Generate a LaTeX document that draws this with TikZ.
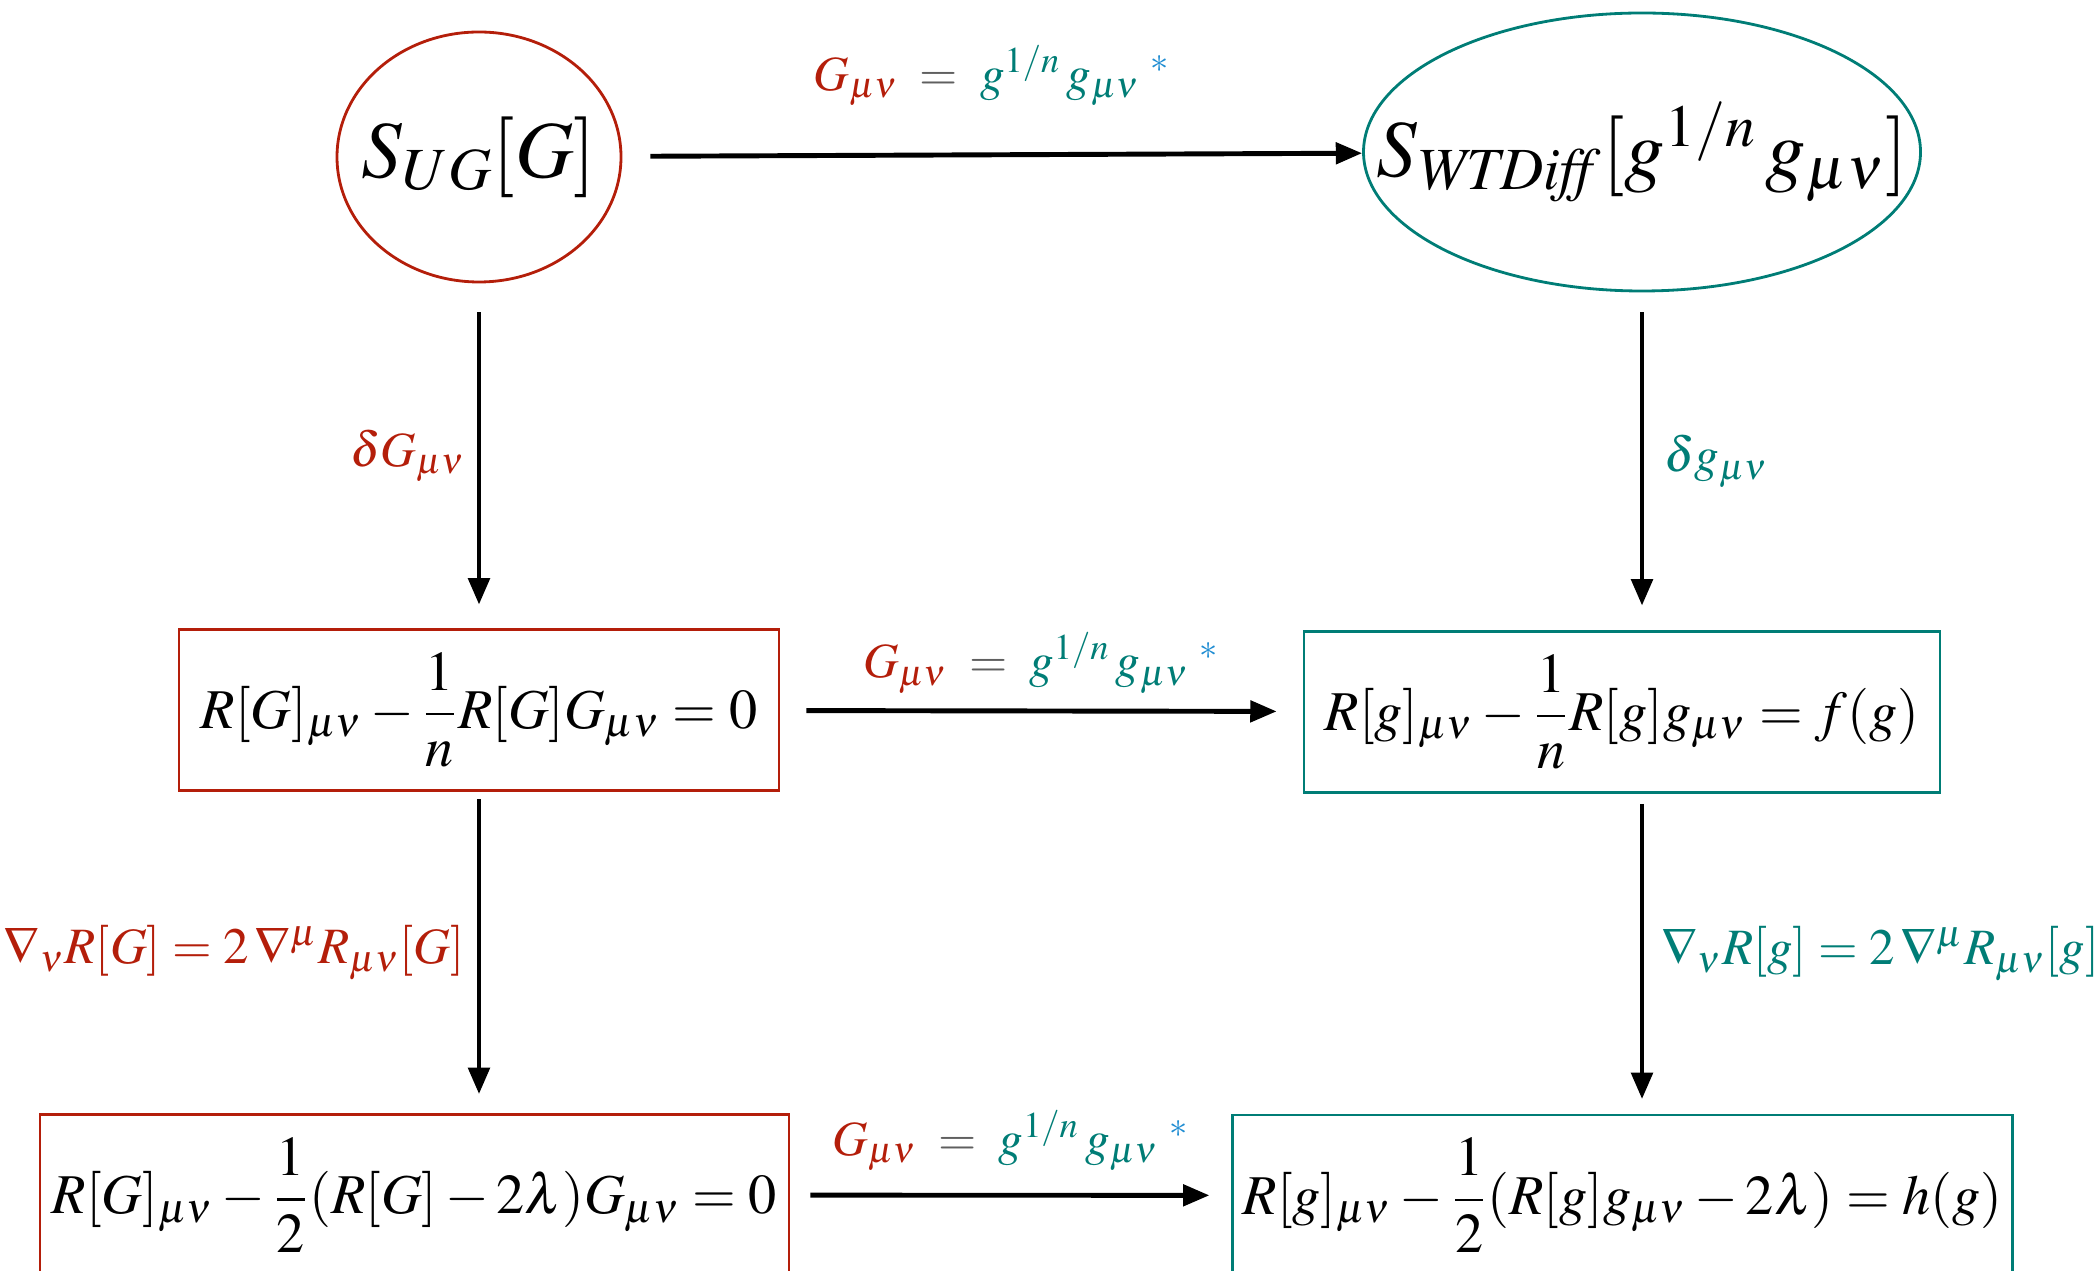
\documentclass[tikz,border=0pt]{standalone}
\IfFileExists{mathptmx.sty}{\usepackage{mathptmx}}{}
\usetikzlibrary{positioning,arrows.meta,shapes.geometric}

\definecolor{ugred}{RGB}{180,30,10}
\definecolor{wtteal}{RGB}{0,125,118}
\definecolor{starblue}{RGB}{30,140,210}
\definecolor{eqgrey}{RGB}{95,95,95}

\newcommand{\maplabel}{$\color{ugred}G_{\mu\nu}\;\;{\color{eqgrey}=}\;\;{\color{wtteal}g^{1/n}\,g_{\mu\nu}}\;{}^{\color{starblue}*}$}

\begin{document}
\begin{tikzpicture}[scale=1,
    arr/.style={-{Triangle[length=7.5pt,width=6pt]}, line width=1.4pt},
    action/.style={ellipse, line width=0.8pt, inner xsep=-0.8cm, inner ysep=0pt, font=\fontsize{23}{27}\selectfont},
    eqbox/.style={rectangle, line width=0.8pt, minimum height=1.61cm, inner xsep=0.1cm, font=\fontsize{16}{19}\selectfont},
    lab/.style={font=\fontsize{14}{17}\selectfont},
    bianchi/.style={font=\fontsize{14.5}{17}\selectfont}]

\useasboundingbox (0,0) rectangle (20.99,-12.71);
\clip (0,0) rectangle (20.99,-12.71);

% Actions
\node[action, draw=ugred, minimum width=2.84cm, minimum height=2.50cm] (sug) at (4.79,-1.57) {$S_{UG}[G]$};
\node[action, draw=wtteal, minimum width=5.57cm, minimum height=2.78cm] (swt) at (16.42,-1.52) {$S_{\mathit{WTDiff}}[g^{1/n}\,g_{\mu\nu}]$};

% Field equations
\node[eqbox, draw=ugred, minimum width=6.00cm] (ueq) at (4.79,-7.10) {$\displaystyle R[G]_{\mu\nu}-\frac{1}{n}R[G]G_{\mu\nu}=0$};
\node[eqbox, draw=wtteal, minimum width=6.36cm] (weq) at (16.22,-7.12) {$\displaystyle R[g]_{\mu\nu}-\frac{1}{n}R[g]g_{\mu\nu}=f(g)$};
\node[eqbox, draw=ugred, minimum width=7.49cm] (ulam) at (4.145,-11.95) {$\displaystyle R[G]_{\mu\nu}-\frac{1}{2}(R[G]-2\lambda)G_{\mu\nu}=0$};
\node[eqbox, draw=wtteal, minimum width=7.73cm] (wlam) at (16.225,-11.955) {$\displaystyle R[g]_{\mu\nu}-\frac{1}{2}(R[g]g_{\mu\nu}-2\lambda)=h(g)$};

% Maps from UG to WTDiff
\draw[arr, shorten <=0.28cm] (sug) -- node[lab, above=0.35cm] {\maplabel} (swt);
\draw[arr, shorten <=0.26cm, shorten >=0.26cm] (ueq) -- node[lab, above=1pt] {\maplabel} (weq);
\draw[arr, shorten <=0.2cm, shorten >=0.22cm] (ulam) -- node[lab, above=0.1cm] {\maplabel} (wlam);

% Variations
\draw[arr, shorten <=0.29cm, shorten >=0.235cm] (sug) -- node[lab, left=0cm, text=ugred] {$\delta G_{\mu\nu}$} (sug |- ueq.north);
\draw[arr, shorten <=0.2cm, shorten >=0.245cm] (swt) -- node[lab, right=0.08cm, text=wtteal] {$\delta g_{\mu\nu}$} (swt |- weq.north);

% Bianchi identities
\draw[arr, shorten <=0.075cm, shorten >=0.19cm] (ueq) -- node[bianchi, left=0cm, text=ugred] {$\nabla_{\nu}R[G]=2\,\nabla^{\mu}R_{\mu\nu}[G]$} (ueq |- ulam.north);
\draw[arr, shorten <=0.1cm, shorten >=0.145cm] (swt |- weq.south) -- node[bianchi, right=0.05cm, text=wtteal] {$\nabla_{\nu}R[g]=2\,\nabla^{\mu}R_{\mu\nu}[g]$} (swt |- wlam.north);

\end{tikzpicture}
\end{document}
